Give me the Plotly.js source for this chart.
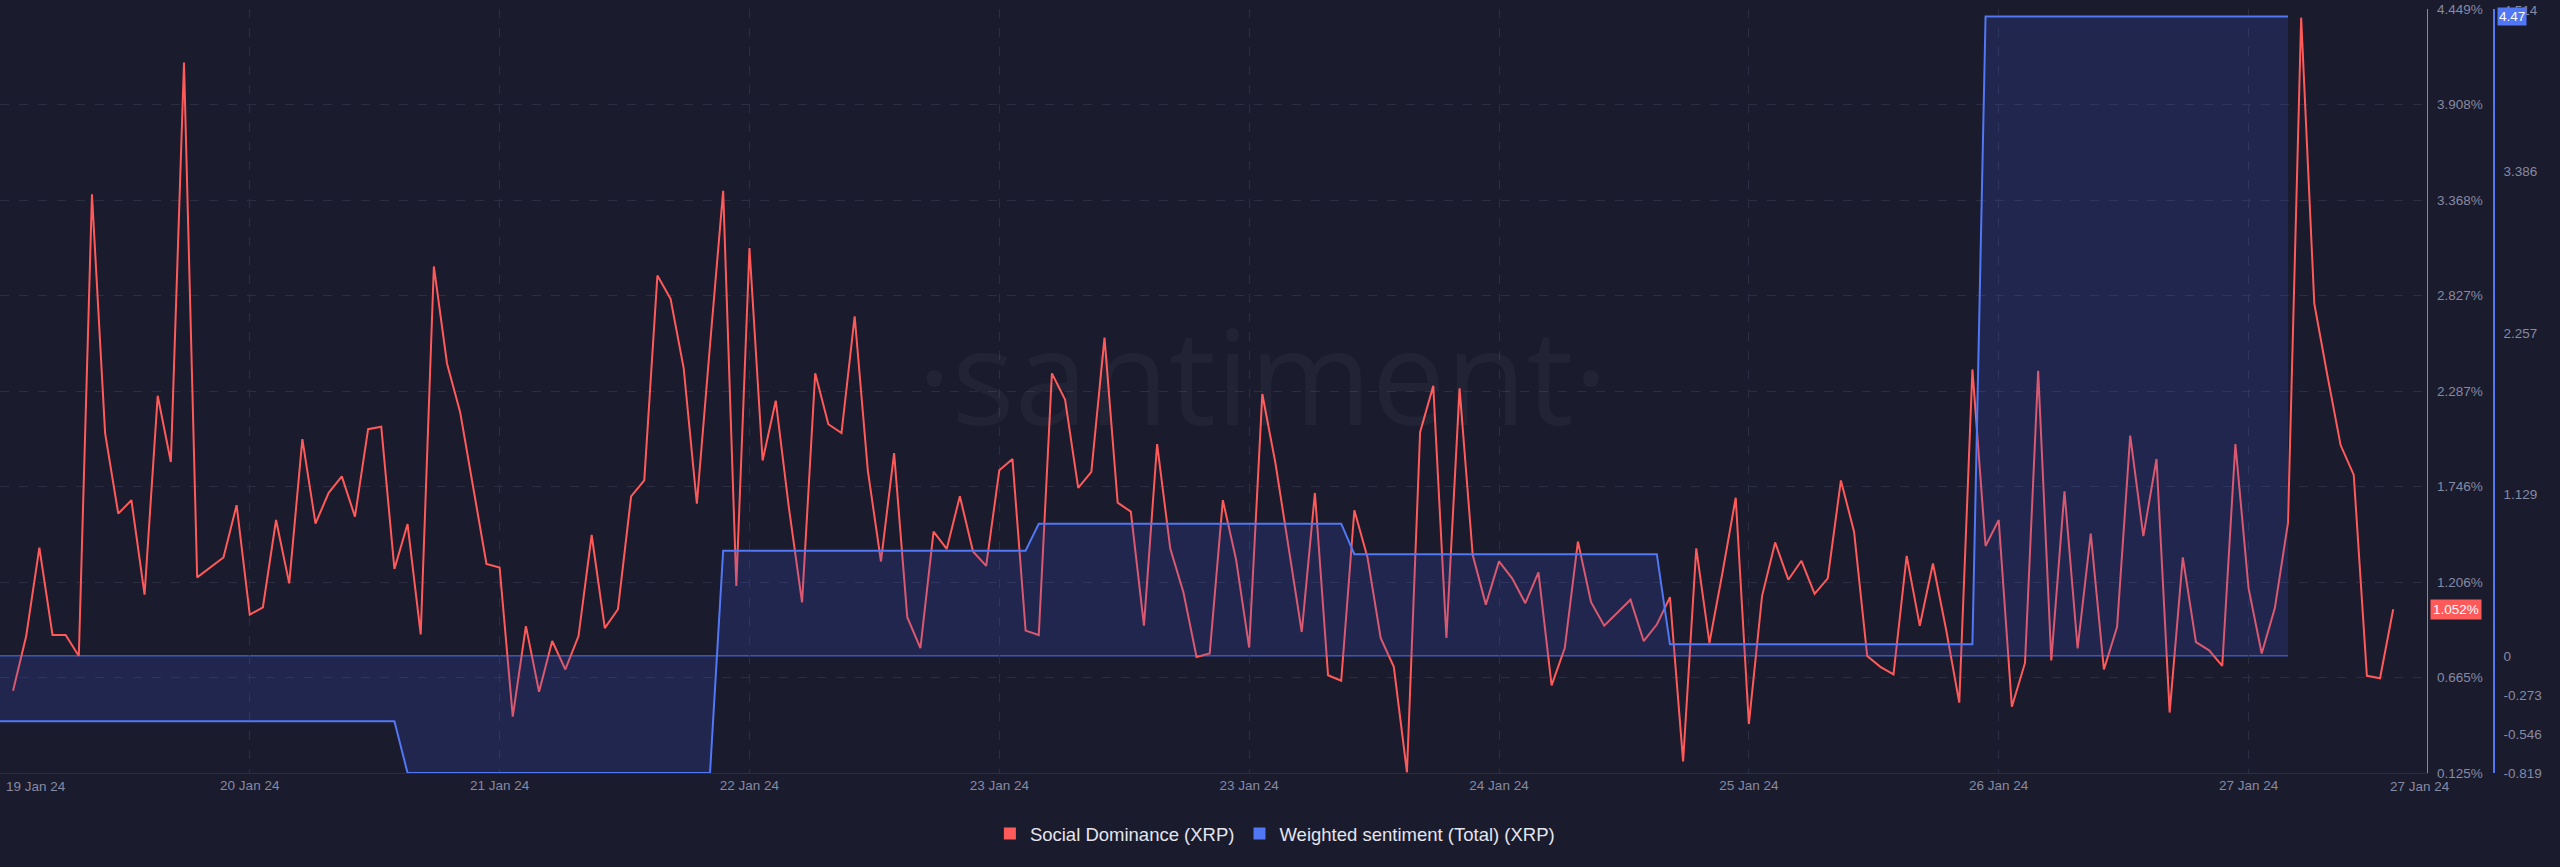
<!DOCTYPE html>
<html>
<head>
<meta charset="utf-8">
<script src="https://cdn.plot.ly/plotly-3.0.1.min.js"></script>
<style>
  html, body { margin: 0; padding: 0; background: #1a1b2d; }
  #chart { width: 2560px; height: 867px; }
</style>
</head>
<body>
<div id="chart"></div>
<script>
// ---- Data ----
// Social Dominance (XRP), hourly values (%) starting 2024-01-20 00:00
const socialStart = '2024-01-20 00:00';
const socialDominance = [
  0.590, 0.900, 1.401, 0.906, 0.906, 0.787, 3.400, 2.049, 1.593, 1.669,
  1.134, 2.260, 1.885, 4.146, 1.232, 1.288, 1.345, 1.641, 1.021, 1.063,
  1.557, 1.198, 2.015, 1.537, 1.711, 1.804, 1.576, 2.071, 2.085, 1.280,
  1.534, 0.909, 2.992, 2.443, 2.167, 1.738, 1.308, 1.288, 0.444, 0.956,
  0.585, 0.872, 0.711, 0.900, 1.472, 0.945, 1.052, 1.691, 1.781, 2.941,
  2.809, 2.415, 1.649, 2.546, 3.420, 1.184, 3.096, 1.894, 2.232, 1.626,
  1.091, 2.387, 2.099, 2.049, 2.710, 1.838, 1.322, 1.936, 1.007, 0.832,
  1.491, 1.393, 1.691, 1.379, 1.297, 1.838, 1.902, 0.931, 0.906, 2.387,
  2.238, 1.739, 1.829, 2.589, 1.655, 1.604, 0.959, 1.987, 1.396, 1.148,
  0.782, 0.801, 1.669, 1.335, 0.835, 2.270, 1.878, 1.401, 0.923, 1.710,
  0.678, 0.647, 1.612, 1.345, 0.889, 0.726, 0.129, 2.054, 2.316, 0.889,
  2.302, 1.359, 1.078, 1.323, 1.227, 1.086, 1.261, 0.621, 0.832, 1.435,
  1.092, 0.959, 1.035, 1.106, 0.872, 0.965, 1.120, 0.191, 1.396, 0.861,
  1.261, 1.683, 0.402, 1.125, 1.430, 1.219, 1.326, 1.139, 1.227, 1.781,
  1.491, 0.787, 0.726, 0.683, 1.354, 0.958, 1.311, 0.937, 0.523, 2.409,
  1.410, 1.557, 0.500, 0.748, 2.401, 0.762, 1.719, 0.830, 1.480, 0.711,
  0.951, 2.035, 1.466, 1.902, 0.467, 1.345, 0.866, 0.819, 0.731, 1.987,
  1.171, 0.801, 1.058, 1.542, 4.400, 2.781, 2.373, 1.981, 1.812, 0.675,
  0.661, 1.052
];

// Weighted sentiment (Total) (XRP), daily values (each day block starts 06:00)
const sentimentDays = [
  '2024-01-19 06:00', '2024-01-20 06:00', '2024-01-21 06:00', '2024-01-22 06:00',
  '2024-01-23 06:00', '2024-01-24 06:00', '2024-01-25 06:00', '2024-01-26 06:00'
];
const sentimentValues = [-0.458, -0.458, -0.819, 0.735, 0.924, 0.711, 0.081, 4.47];

// Axis ticks
const socialTickVals = [0.125, 0.665, 1.206, 1.746, 2.287, 2.827, 3.368, 3.908, 4.449];
const socialTickText = ['0.125%', '0.665%', '1.206%', '1.746%', '2.287%', '2.827%', '3.368%', '3.908%', '4.449%'];
const sentimentTickVals = [-0.819, -0.546, -0.273, 0, 1.129, 2.257, 3.386, 4.514];
const sentimentTickText = ['-0.819', '-0.546', '-0.273', '0', '1.129', '2.257', '3.386', '4.514'];
const xRange = ['2024-01-19 23:00:24', '2024-01-27 15:32:50'];
const xTick0 = '2024-01-20 18:00';
const xTickHours = 19;
const edgeLabels = ['19 Jan 24', '27 Jan 24'];

const seriesNames = ['Social Dominance (XRP)', 'Weighted sentiment (Total) (XRP)'];
const lastSocialLabel = '1.052%';
const lastSentimentLabel = '4.47';

// ---- Helpers ----
const HOUR = 3600 * 1000;
function parseMs(s) {
  const p = s.split(/[- :]/).map(Number);
  return Date.UTC(p[0], p[1] - 1, p[2], p[3] || 0, p[4] || 0, p[5] || 0);
}
function fmt(ms) { return new Date(ms).toISOString().slice(0, 19).replace('T', ' '); }

const socialX = socialDominance.map((_, i) => fmt(parseMs(socialStart) + i * HOUR));

const sentX = [], sentY = [];
sentimentDays.forEach((d, k) => {
  const t = parseMs(d);
  sentX.push(fmt(t)); sentY.push(sentimentValues[k]);
  sentX.push(fmt(t + 23 * HOUR)); sentY.push(sentimentValues[k]);
});

// ---- Styles ----
const RED = '#ff5a5a';
const BLUE = '#5277f5';
const BG = '#1a1b2d';
const GRID = '#2b2d43';
const TICKC = '#868aa3';
const FONT = 'Liberation Sans, Arial, sans-serif';

const W = 2560, H = 867;
const plotRight = 2426.7, blueAxisX = 2493.3;

const traces = [
  {
    x: sentX, y: sentY, yaxis: 'y2', type: 'scatter', mode: 'lines',
    line: { color: BLUE, width: 2 }, fill: 'tozeroy', fillcolor: 'rgba(58,86,205,0.20)',
    showlegend: false, hoverinfo: 'skip'
  },
  {
    x: socialX, y: socialDominance, yaxis: 'y', type: 'scatter', mode: 'lines',
    line: { color: RED, width: 2 }, showlegend: false, hoverinfo: 'skip'
  },
  // legend entries (square swatches)
  { x: [null], y: [null], type: 'scatter', mode: 'markers', name: seriesNames[0],
    marker: { symbol: 'square', size: 12, color: RED } },
  { x: [null], y: [null], type: 'scatter', mode: 'markers', name: seriesNames[1],
    marker: { symbol: 'square', size: 12, color: BLUE } }
];

const layout = {
  width: W, height: H,
  paper_bgcolor: BG, plot_bgcolor: BG,
  margin: { l: 0, r: 0, t: 9, b: 94, pad: 0 },
  font: { family: FONT, color: TICKC, size: 13.5 },
  showlegend: true,
  legend: {
    orientation: 'h', x: 0.498, xanchor: 'center', y: -0.0798, yanchor: 'middle',
    font: { family: FONT, size: 18.5, color: '#e4e5ee' }, bgcolor: 'rgba(0,0,0,0)',
    itemclick: false, itemdoubleclick: false
  },
  xaxis: {
    type: 'date', domain: [0, plotRight / W], range: xRange,
    tick0: xTick0, dtick: xTickHours * HOUR, tickformat: '%d %b %y',
    showgrid: true, gridcolor: GRID, griddash: '9px,10px', gridwidth: 1,
    showline: true, linecolor: GRID, linewidth: 1, zeroline: false,
    ticks: '', ticklabelstandoff: 0,
    tickfont: { family: FONT, size: 13.5, color: TICKC }, automargin: false
  },
  yaxis: {
    side: 'right', anchor: 'x', range: [0.125, 4.449],
    tickmode: 'array', tickvals: socialTickVals, ticktext: socialTickText,
    showgrid: true, gridcolor: GRID, griddash: '9px,10px', gridwidth: 1,
    showline: true, linecolor: RED, linewidth: 1.5, zeroline: false,
    ticks: '', ticklabelstandoff: 6,
    tickfont: { family: FONT, size: 13.5, color: TICKC }, automargin: false
  },
  yaxis2: {
    side: 'right', overlaying: 'y', anchor: 'free', position: blueAxisX / W,
    range: [-0.819, 4.523],
    tickmode: 'array', tickvals: sentimentTickVals, ticktext: sentimentTickText,
    showgrid: false, showline: true, linecolor: BLUE, linewidth: 1.5, zeroline: false,
    ticks: '', ticklabelstandoff: 6,
    tickfont: { family: FONT, size: 13.5, color: TICKC }, automargin: false
  },
  shapes: [
    { type: 'line', xref: 'x', yref: 'y2', layer: 'below',
      x0: sentX[0], x1: sentX[sentX.length - 1], y0: 0, y1: 0,
      line: { color: BLUE, width: 1 } }
  ],
  annotations: [
    { text: '·santiment·', xref: 'paper', yref: 'paper', x: 1262 / W, y: 0.522,
      xanchor: 'center', yanchor: 'middle', showarrow: false,
      font: { family: 'Open Sans, sans-serif', size: 132, color: 'rgba(255,255,255,0.035)' } },
    { text: edgeLabels[0], xref: 'paper', yref: 'paper', x: 36 / W, y: 0, yshift: -13.7,
      xanchor: 'center', yanchor: 'middle', showarrow: false,
      font: { family: FONT, size: 13.5, color: TICKC } },
    { text: edgeLabels[1], xref: 'paper', yref: 'paper', x: 2420 / W, y: 0, yshift: -13.7,
      xanchor: 'center', yanchor: 'middle', showarrow: false,
      font: { family: FONT, size: 13.5, color: TICKC } },
    { text: lastSocialLabel, xref: 'paper', yref: 'y', x: 2430 / W, y: socialDominance[socialDominance.length - 1],
      xanchor: 'left', yanchor: 'middle', showarrow: false, bgcolor: RED, borderpad: 2,
      font: { family: FONT, size: 13.5, color: '#ffffff' } },
    { text: lastSentimentLabel, xref: 'paper', yref: 'y2', x: 2497 / W, y: sentimentValues[sentimentValues.length - 1],
      xanchor: 'left', yanchor: 'middle', showarrow: false, bgcolor: BLUE, borderpad: 1,
      font: { family: FONT, size: 13.5, color: '#ffffff' } }
  ]
};

Plotly.newPlot('chart', traces, layout, { displayModeBar: false, staticPlot: true });
</script>
</body>
</html>
